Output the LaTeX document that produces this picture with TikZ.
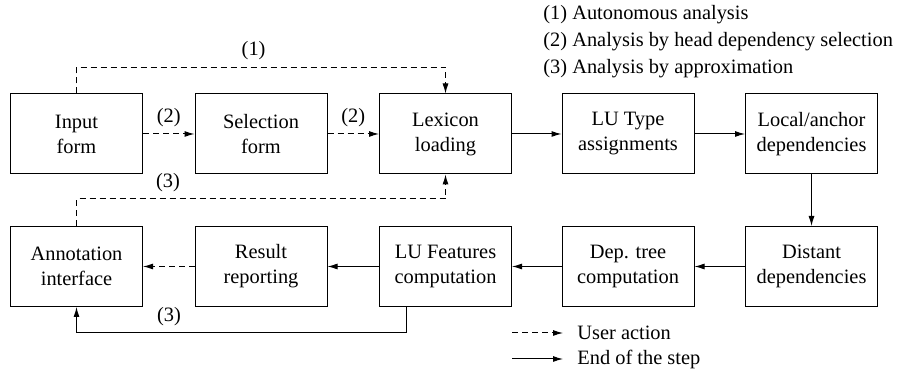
\documentclass[tikz,border=0pt]{standalone}
\usepackage{fontspec}
\setmainfont{Liberation Serif}
\usetikzlibrary{arrows.meta}

\begin{document}
\begin{tikzpicture}[x = 0.5pt, y = 0.5pt,
	font = \rmfamily\fontsize{10.2pt}{12.5pt}\selectfont,
	stage/.style = {draw, line width=0.5pt, minimum width=66pt, minimum height=40pt, align=center, inner sep=0pt},
	endstep/.style = {line width=0.5pt, -{Latex[length=5pt,width=3pt]}},
	useract/.style = {endstep, dash pattern=on 3pt off 2pt},
	legend/.style = {anchor=west, inner sep=0pt}]
	\useasboundingbox (0,0) rectangle (898,374);
	
	% first row of stages
	\node [stage] (input) at (76.5,240) {Input\\form};
	\node [stage] (select) at (261,240) {Selection\\form};
	\node [stage] (lexicon) at (445.5,240) {Lexicon\\loading};
	\node [stage] (lutype) at (628,240) {LU Type\\assignments};
	\node [stage] (local) at (811.5,240) {Local/anchor\\dependencies};
	
	% second row of stages
	\node [stage] (distant) at (811.5,107.5) {Distant\\dependencies};
	\node [stage] (deptree) at (628,107.5) {Dep. tree\\computation};
	\node [stage] (lufeat) at (445.5,107.5) {LU Features\\computation};
	\node [stage] (result) at (261,107.5) {Result\\reporting};
	\node [stage] (annot) at (76.5,107.5) {Annotation\\interface};
	
	% end of the step
	\draw [endstep] (lexicon) -- (lutype);
	\draw [endstep] (lutype) -- (local);
	\draw [endstep] (local) -- (distant);
	\draw [endstep] (distant) -- (deptree);
	\draw [endstep] (deptree) -- (lufeat);
	\draw [endstep] (lufeat) -- (result);
	\draw [endstep] ([xshift=-19.4pt]lufeat.south) -- ++(0,-26) -| node [pos=0.36, above] {(3)} (annot.south);
	
	% user actions
	\draw [useract] (input.north) -- ++(0,26) -| node [pos=0.24, above] {(1)} (lexicon.north);
	\draw [useract] (input) -- node [above] {(2)} (select);
	\draw [useract] (select) -- node [above] {(2)} (lexicon);
	\draw [useract] (result) -- (annot);
	\draw [useract] (annot.north) -- ++(0,27) -| node [pos=0.124, above] {(3)} (lexicon.south);
	
	% legend
	\node [legend] (mode1) at (543,359) {(1) Autonomous analysis};
	\node [legend] (mode2) at (543,332) {(2) Analysis by head dependency selection};
	\node [legend] (mode3) at (543,305) {(3) Analysis by approximation};
	
	\coordinate (ua0) at (512,41);
	\coordinate (ua1) at (563,41);
	\coordinate (es0) at (512,15);
	\coordinate (es1) at (563,15);
	\node [legend] (ualabel) at (577,41) {User action};
	\node [legend] (eslabel) at (577,15) {End of the step};
	\draw [useract] (ua0) -- (ua1);
	\draw [endstep] (es0) -- (es1);
\end{tikzpicture}
\end{document}
